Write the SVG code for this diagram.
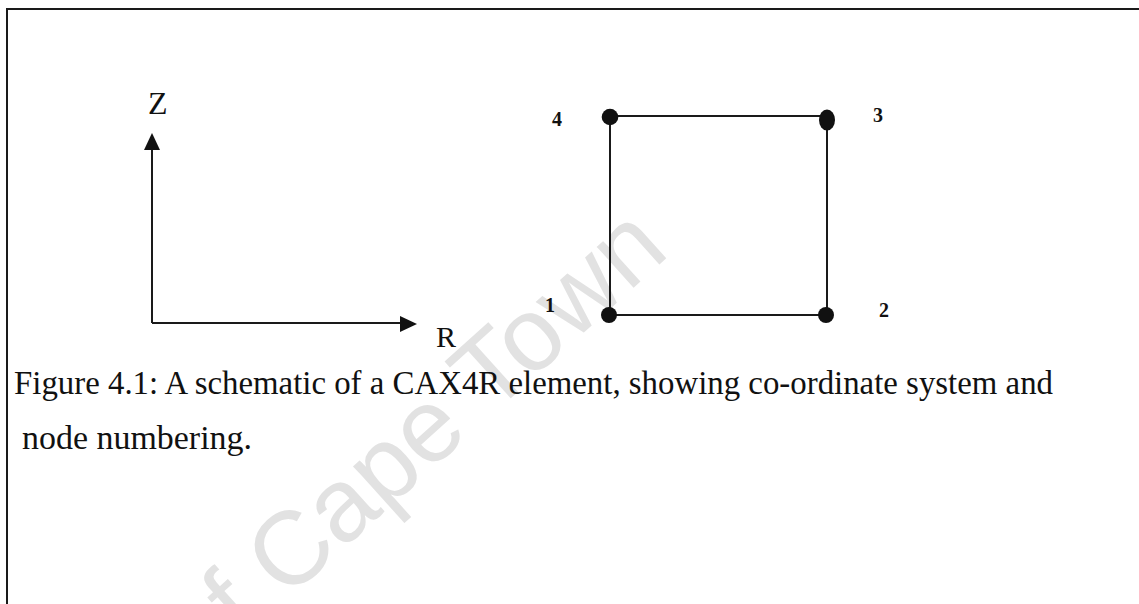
<svg xmlns="http://www.w3.org/2000/svg" width="1139" height="604" viewBox="0 0 1139 604">
<style>
.ln{stroke:#1a1a1a;stroke-width:2;fill:none}
.nd{fill:#111}
.lbl{font-family:"Liberation Serif","Times New Roman",serif;fill:#111}
.num{font-family:"Liberation Serif","Times New Roman",serif;font-size:20px;font-weight:bold;fill:#111}
.cap{font-family:"Liberation Serif","Times New Roman",serif;font-size:33px;fill:#111}
.wm{font-family:"Liberation Sans",Arial,sans-serif;font-size:104px;fill:#e2e2e2}
</style>
<rect width="1139" height="604" fill="#fff"/>
<text class="wm" transform="translate(200,678) rotate(-42)">of Cape Town</text>
<g id="frame">
<path class="ln" d="M7,604 V9 H1139"/>
</g>
<g id="connectors">
<path class="ln" d="M152,323 V148"/>
<polygon class="nd" points="152,133 144,150 160,150"/>
<path class="ln" d="M152,323 H402"/>
<polygon class="nd" points="417,324 400,316 400,332"/>
<path class="ln" d="M610,116 H827 V315 H610 Z"/>
</g>
<g id="axis-z"><text class="lbl" x="148" y="114" font-size="32">Z</text></g>
<g id="axis-r"><text class="lbl" x="436" y="347" font-size="30">R</text></g>
<g id="node1"><circle class="nd" cx="609" cy="315" r="8"/><text class="num" x="545" y="312">1</text></g>
<g id="node2"><circle class="nd" cx="826" cy="315" r="8"/><text class="num" x="879" y="317">2</text></g>
<g id="node3"><ellipse class="nd" cx="827" cy="120" rx="8" ry="10.5"/><text class="num" x="873" y="122">3</text></g>
<g id="node4"><circle class="nd" cx="610" cy="117" r="8.3"/><text class="num" x="552" y="126">4</text></g>
<g id="caption">
<text class="cap" x="14" y="394" textLength="1039" lengthAdjust="spacingAndGlyphs">Figure 4.1: A schematic of a CAX4R element, showing co-ordinate system and</text>
<text class="cap" x="22" y="449" textLength="230" lengthAdjust="spacingAndGlyphs">node numbering.</text>
</g>
</svg>
